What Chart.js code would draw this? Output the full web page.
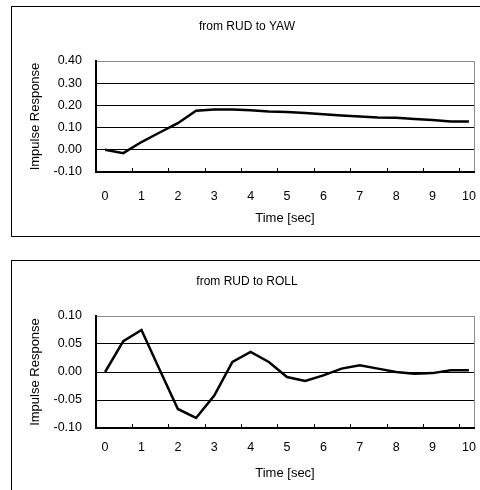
<!DOCTYPE html>
<html>
<head>
<meta charset="utf-8">
<script src="https://cdn.jsdelivr.net/npm/chart.js@4.4.1/dist/chart.umd.min.js"></script>
<style>
    html, body { margin: 0; padding: 0; background: #fff; overflow: hidden; }
    #wrap { position: relative; width: 480px; height: 490px; overflow: hidden; }
    .box { position: absolute; left: 11px; width: 520px; border: 1px solid #000; }
    canvas { position: absolute; left: 0; }
</style>
</head>
<body>
<div id="wrap">
    <div class="box" style="top:6px;height:229px;"></div>
    <div class="box" style="top:260px;height:300px;"></div>
    <canvas id="yawChart" width="480" height="245" style="top:0;"></canvas>
    <canvas id="rollChart" width="480" height="245" style="top:245px;"></canvas>
</div>
<script>
    // time axis, seconds
    var times = [0, 0.5, 1, 1.5, 2, 2.5, 3, 3.5, 4, 4.5, 5, 5.5, 6, 6.5, 7, 7.5, 8, 8.5, 9, 9.5, 10];

    // impulse responses
    var yawValues = [0.000, -0.015, 0.035, 0.078, 0.120, 0.176, 0.182, 0.182, 0.178, 0.172, 0.170,
        0.166, 0.160, 0.155, 0.150, 0.146, 0.144, 0.139, 0.134, 0.128, 0.127];
    var rollValues = [0.000, 0.055, 0.075, 0.004, -0.066, -0.082, -0.042, 0.018, 0.036, 0.018, -0.009,
        -0.016, -0.006, 0.006, 0.012, 0.006, 0.000, -0.003, -0.002, 0.003, 0.003];

    var xLabelTicks = [0, 1, 2, 3, 4, 5, 6, 7, 8, 9, 10];
    var xMarkTicks = [0.75, 1.75, 2.75, 3.75, 4.75, 5.75, 6.75, 7.75, 8.75, 9.75];
    var X_MIN = -0.25;
    var X_MAX = 10.14;

    var FONT = '"Liberation Sans", Arial, sans-serif';

    var makeChart = function (canvasId, opts) {
        var points = times.map(function (t, i) {
            return { x: t, y: opts.values[i] };
        });

        return new Chart(document.getElementById(canvasId), {
            type: 'line',
            data: {
                datasets: [{
                    data: points,
                    borderColor: '#000',
                    borderWidth: 2.5,
                    pointRadius: 0,
                    tension: 0,
                    fill: false
                }]
            },
            options: {
                responsive: false,
                animation: false,
                events: [],
                // left padding keeps the title centred on the framed box, not the canvas
                layout: { padding: { left: 20, right: 6, top: 0, bottom: 0 } },
                plugins: {
                    legend: { display: false },
                    tooltip: { enabled: false },
                    title: {
                        display: true,
                        text: opts.title,
                        color: '#000',
                        font: { family: FONT, size: 12, weight: 'normal' },
                        padding: { top: opts.titleTop, bottom: opts.titleBottom }
                    }
                },
                scales: {
                    x: {
                        type: 'linear',
                        min: X_MIN,
                        max: X_MAX,
                        afterBuildTicks: function (scale) {
                            var all = xLabelTicks.concat(xMarkTicks).concat([X_MAX]);
                            all.sort(function (a, b) { return a - b; });
                            scale.ticks = all.map(function (v) { return { value: v }; });
                        },
                        afterFit: function (scale) {
                            scale.height = opts.xAxisHeight;
                            // tick padding is only meant to push labels down, not in from the sides
                            scale.paddingLeft = 0;
                            scale.paddingRight = 0;
                        },
                        border: { color: '#000', width: 2 },
                        grid: {
                            drawOnChartArea: true,
                            drawTicks: true,
                            tickLength: -4,
                            tickWidth: 1,
                            lineWidth: 1,
                            color: function (ctx) {
                                return ctx.tick && ctx.tick.value === X_MAX ? '#8c8c8c' : 'rgba(0,0,0,0)';
                            },
                            tickColor: function (ctx) {
                                return ctx.tick && xMarkTicks.indexOf(ctx.tick.value) >= 0 ? '#000' : 'rgba(0,0,0,0)';
                            }
                        },
                        ticks: {
                            autoSkip: false,
                            maxRotation: 0,
                            padding: opts.xTickPad,
                            color: '#000',
                            font: { family: FONT, size: 12.5 },
                            callback: function (v) {
                                return xLabelTicks.indexOf(v) >= 0 ? String(v) : '';
                            }
                        },
                        title: {
                            display: true,
                            text: 'Time [sec]',
                            color: '#000',
                            font: { family: FONT, size: 13 },
                            padding: { top: 0, bottom: opts.xTitleBottom }
                        }
                    },
                    y: {
                        min: opts.yMin,
                        max: opts.yMax,
                        afterFit: function (scale) {
                            scale.width = 76;
                        },
                        border: { color: '#000', width: 2 },
                        grid: {
                            drawTicks: false,
                            lineWidth: 1,
                            color: function (ctx) {
                                return ctx.tick && Math.abs(ctx.tick.value - opts.yMax) < 1e-9 ? '#8c8c8c' : '#000';
                            }
                        },
                        ticks: {
                            stepSize: opts.yStep,
                            padding: 14,
                            color: '#000',
                            font: { family: FONT, size: 12.5 },
                            callback: function (v) {
                                return Number(v).toFixed(2);
                            }
                        },
                        title: {
                            display: true,
                            text: 'Impulse Response',
                            color: '#000',
                            font: { family: FONT, size: 13 },
                            padding: { top: 7.5, bottom: 0 }
                        }
                    }
                }
            }
        });
    };

    makeChart('yawChart', {
        title: 'from RUD to YAW',
        values: yawValues,
        yMin: -0.1, yMax: 0.4, yStep: 0.1,
        titleTop: 19, titleBottom: 27.6,
        xAxisHeight: 73, xTickPad: 21, xTitleBottom: 19
    });

    makeChart('rollChart', {
        title: 'from RUD to ROLL',
        values: rollValues,
        yMin: -0.1, yMax: 0.1, yStep: 0.05,
        titleTop: 29, titleBottom: 27.6,
        xAxisHeight: 62, xTickPad: 16, xTitleBottom: 9
    });
</script>
</body>
</html>
